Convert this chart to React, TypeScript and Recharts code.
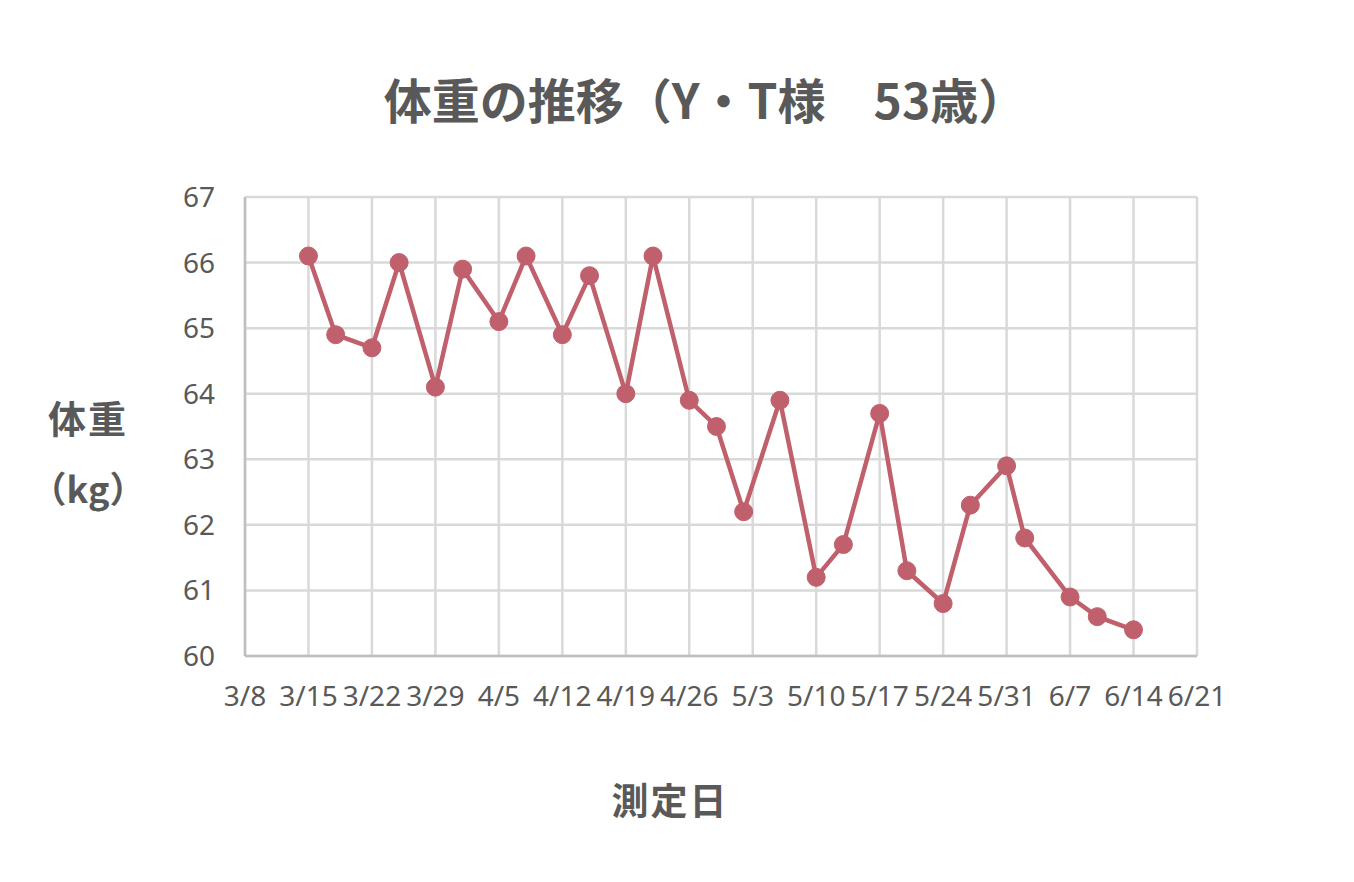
import { LineChart, Line, XAxis, YAxis, CartesianGrid } from "recharts";

const tickLabels = [
  "3/8", "3/15", "3/22", "3/29", "4/5", "4/12", "4/19", "4/26",
  "5/3", "5/10", "5/17", "5/24", "5/31", "6/7", "6/14", "6/21",
];

const dates = [
  "3/15", "3/18", "3/22", "3/25", "3/29", "4/1", "4/5", "4/8", "4/12",
  "4/15", "4/19", "4/22", "4/26", "4/29", "5/2", "5/6", "5/10", "5/13",
  "5/17", "5/20", "5/24", "5/27", "5/31", "6/2", "6/7", "6/10", "6/14",
];

const weights = [
  66.1, 64.9, 64.7, 66.0, 64.1, 65.9, 65.1, 66.1, 64.9,
  65.8, 64.0, 66.1, 63.9, 63.5, 62.2, 63.9, 61.2, 61.7,
  63.7, 61.3, 60.8, 62.3, 62.9, 61.8, 60.9, 60.6, 60.4,
];

const yTicks = [60, 61, 62, 63, 64, 65, 66, 67];

// day of year (non-leap) so the x axis is a real date scale
const monthStart: Record<number, number> = { 3: 59, 4: 90, 5: 120, 6: 151 };
const toDay = (s: string) => {
  const [m, d] = s.split("/").map(Number);
  return monthStart[m] + d;
};

const data = dates.map((d, i) => ({ day: toDay(d), weight: weights[i] }));
const xTicks = tickLabels.map(toDay);
const labelOf: Record<number, string> = {};
tickLabels.forEach((t) => (labelOf[toDay(t)] = t));

const textColor = "#595959";
const lineColor = "#c0606c";
const gridColor = "#d9d9d9";
const jp = '"Noto Sans CJK JP", "Noto Sans", sans-serif';

export default function App() {
  return (
    <div style={{ position: "absolute", left: 0, top: 0, width: 1354, height: 882, background: "#fff" }}>
      <div
        style={{
          position: "absolute", left: 0, width: 1410, top: 67, textAlign: "center",
          fontFamily: jp, fontWeight: 700, fontSize: 48, color: textColor, lineHeight: "62px",
        }}
      >
        体重の推移（Y・T様　53歳）
      </div>
      <div
        style={{
          position: "absolute", left: 8, width: 160, top: 392, textAlign: "center",
          fontFamily: jp, fontWeight: 700, fontSize: 38, color: textColor, lineHeight: "50px",
          letterSpacing: 2,
        }}
      >
        体重
      </div>
      <div
        style={{
          position: "absolute", left: 8, width: 160, top: 462, textAlign: "center",
          fontFamily: jp, fontWeight: 700, fontSize: 36, color: textColor, lineHeight: "50px",
        }}
      >
        （kg）
      </div>
      <div
        style={{
          position: "absolute", left: 0, width: 1340, top: 774, textAlign: "center",
          fontFamily: jp, fontWeight: 700, fontSize: 37, color: textColor, lineHeight: "50px",
          letterSpacing: 2,
        }}
      >
        測定日
      </div>
      <LineChart
        width={1354}
        height={882}
        data={data}
        margin={{ top: 197, right: 157, bottom: 126, left: 0 }}
        style={{ position: "absolute", left: 0, top: 0 }}
      >
        <CartesianGrid stroke={gridColor} strokeWidth={2.5} />
        <XAxis
          dataKey="day"
          type="number"
          domain={[xTicks[0], xTicks[xTicks.length - 1]]}
          ticks={xTicks}
          interval={0}
          tickFormatter={(v) => labelOf[v] ?? ""}
          tick={{ fontSize: 28, fill: textColor, fontFamily: '"Noto Sans", sans-serif' }}
          tickLine={false}
          axisLine={{ stroke: "#bfbfbf", strokeWidth: 2.5 }}
          tickSize={0}
          tickMargin={30}
          height={100}
        />
        <YAxis
          type="number"
          domain={[60, 67]}
          ticks={yTicks}
          interval={0}
          tick={{ fontSize: 28, fill: textColor, fontFamily: '"Noto Sans", sans-serif' }}
          tickLine={false}
          axisLine={{ stroke: "#bfbfbf", strokeWidth: 2.5 }}
          tickSize={0}
          tickMargin={30}
          width={245}
        />
        <Line
          dataKey="weight"
          stroke={lineColor}
          strokeWidth={4.5}
          dot={{ r: 9, fill: lineColor, stroke: lineColor, strokeWidth: 1 }}
          isAnimationActive={false}
        />
      </LineChart>
    </div>
  );
}
